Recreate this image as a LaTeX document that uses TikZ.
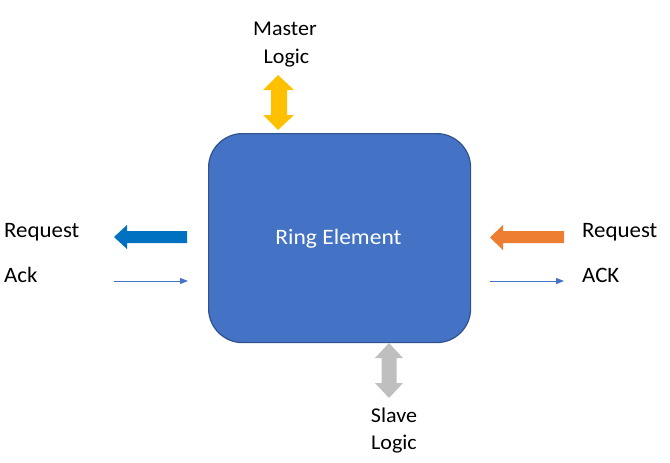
\documentclass[tikz,border=0pt]{standalone}
\usepackage{fontspec}
\setmainfont{Carlito}
\newfontfamily\sidefont[FakeStretch=1.04]{Carlito}
\newfontfamily\topfont[FakeStretch=1.05]{Carlito}
\newfontfamily\ringfont[FakeStretch=1.07]{Carlito}
\usetikzlibrary{arrows.meta}
\definecolor{boxblue}{HTML}{4472C4}
\definecolor{boxedge}{HTML}{2F528F}
\definecolor{reqblue}{HTML}{0070C0}
\definecolor{reqorange}{HTML}{ED7D31}
\definecolor{mgold}{HTML}{FFC000}
\definecolor{sgray}{HTML}{BFBFBF}
\tikzset{
  sidelbl/.style={inner sep=0pt, font=\sidefont\fontsize{22}{26}\selectfont, text=black},
  toplbl/.style={inner sep=0pt, font=\topfont\fontsize{21}{25}\selectfont, text=black},
  thinarrow/.style={draw=boxblue, line width=1pt, -{Triangle[length=8pt,width=6pt]}},
}
\begin{document}
\begin{tikzpicture}[x=1pt,y=-1pt]
\useasboundingbox (0,0) rectangle (670,463);
% main box
\node[draw=boxedge, line width=1.2pt, fill=boxblue, rounded corners=34pt,
      minimum width=262pt, minimum height=209pt, inner sep=0pt,
      anchor=north west] (ring) at (208,133) {};
\node[inner sep=0pt, font=\ringfont\fontsize{22}{26}\selectfont, text=white, anchor=base] (ringlbl) at (338.5,244) {Ring Element};
% left request arrow (blue, pointing left)
\fill[reqblue] (187,231) -- (127,231) -- (127,225) -- (114,237) -- (127,249) -- (127,243) -- (187,243) -- cycle;
% right request arrow (orange, pointing left)
\fill[reqorange] (564,231) -- (503,231) -- (503,225) -- (490,237.5) -- (503,250) -- (503,243) -- (564,243) -- cycle;
% master double arrow
\fill[mgold] (278,75) -- (294,90) -- (287,90) -- (287,115) -- (294,115) -- (278,130) -- (263,115) -- (271,115) -- (271,90) -- (263,90) -- cycle;
% slave double arrow
\fill[sgray] (389,343) -- (403,358) -- (396.5,358) -- (396.5,383) -- (403,383) -- (389,398) -- (375,383) -- (381.5,383) -- (381.5,358) -- (375,358) -- cycle;
% thin ack arrows
\coordinate (ackLs) at (114,281);
\coordinate (ackLe) at (188,281);
\coordinate (ackRs) at (490,281);
\coordinate (ackRe) at (564,281);
\draw[thinarrow] (ackLs) -- (ackLe);
\draw[thinarrow] (ackRs) -- (ackRe);
% labels
\node[sidelbl, anchor=base west] (reqL) at (4,237) {Request};
\node[sidelbl, anchor=base west] (ackL) at (4,282.5) {Ack};
\node[sidelbl, anchor=base west] (reqR) at (582,237.5) {Request};
\node[sidelbl, anchor=base west] (ackR) at (582,282) {ACK};
\node[toplbl, anchor=base] (m1) at (285,35) {Master};
\node[toplbl, anchor=base] (m2) at (286.5,63) {Logic};
\node[toplbl, anchor=base] (s1) at (394,422) {Slave};
\node[toplbl, anchor=base] (s2) at (394,449) {Logic};
\end{tikzpicture}
\end{document}
